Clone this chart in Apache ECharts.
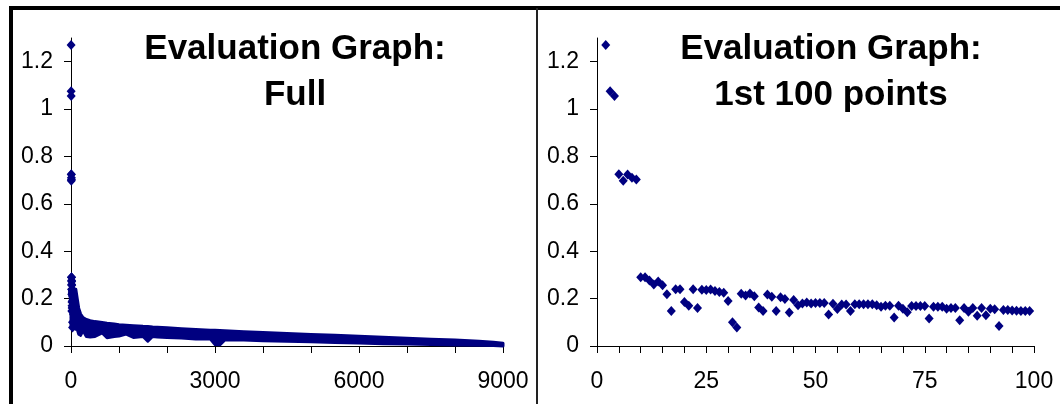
<!DOCTYPE html>
<html><head><meta charset="utf-8">
<script src="https://cdn.jsdelivr.net/npm/echarts@6/dist/echarts.min.js"></script>
<style>html,body{margin:0;padding:0;background:#fff}#c{width:1060px;height:404px}</style>
</head><body><div id="c"></div><script>
// ---- data ----
const pointX = [2,3,4,5,6,7,8,9,10,11,12,13,14,15,16,17,18,19,20,21,22,23,24,25,26,27,28,29,30,31,32,33,34,35,36,37,38,39,40,41,42,43,44,45,46,47,48,49,50,51,52,53,54,55,56,57,58,59,60,61,62,63,64,65,66,67,68,69,70,71,72,73,74,75,76,77,78,79,80,81,82,83,84,85,86,87,88,89,90,91,92,93,94,95,96,97,98,99,100];
const pointY = [1.27,1.075,1.055,0.725,0.698,0.724,0.71,0.703,
  0.29,0.29,0.276,0.26,0.272,0.256,0.218,0.148,0.24,0.24,
  0.186,0.17,0.24,0.16,0.237,0.236,0.238,0.232,0.228,0.225,
  0.19,0.1,0.078,0.221,0.213,0.222,0.21,0.162,0.148,0.217,
  0.208,0.148,0.206,0.198,0.141,0.194,0.172,0.179,0.184,0.179,
  0.181,0.181,0.181,0.133,0.178,0.156,0.175,0.175,0.148,0.176,
  0.176,0.176,0.176,0.176,0.172,0.166,0.17,0.17,0.12,0.17,
  0.157,0.142,0.169,0.169,0.169,0.169,0.116,0.166,0.166,0.166,
  0.157,0.16,0.16,0.109,0.16,0.145,0.16,0.128,0.16,0.13,
  0.157,0.155,0.084,0.152,0.152,0.15,0.149,0.148,0.148,0.148];
// envelope of the dense full-data cloud (left panel)
const bandX     = [0,100,130,160,200,250,320,400,500,650,750,900,1000,1150,1300,1500,1600,1700,1800,2000,2300,2600,2900,3000,3100,3200,3600,4000,4500,5000,5500,6000,6500,7000,7500,8000,8500,8800,9000];
const bandUpper = [0.24,0.24,0.2,0.16,0.135,0.12,0.112,0.107,0.103,0.099,0.096,0.093,0.09,0.088,0.086,0.083,0.082,0.08,0.079,0.077,0.073,0.07,0.067,0.066,0.065,0.064,0.06,0.057,0.053,0.049,0.045,0.041,0.037,0.033,0.029,0.025,0.02,0.016,0.012];
const bandLower = [0.085,0.08,0.07,0.05,0.045,0.065,0.04,0.038,0.04,0.055,0.035,0.04,0.042,0.05,0.036,0.04,0.02,0.04,0.038,0.036,0.034,0.03,0.03,0.006,0.005,0.025,0.025,0.022,0.02,0.018,0.015,0.013,0.01,0.008,0.006,0.004,0.003,0.002,0.0];
const yTicks = [0,0.2,0.4,0.6,0.8,1,1.2];
const fullXTicks = [0,1000,2000,3000,4000,5000,6000,7000,8000,9000];
const fullXLabels = [0,3000,6000,9000];
const zoomXTicks = [0,5,10,15,20,25,30,35,40,45,50,55,60,65,70,75,80,85,90,95,100];
const zoomXLabels = [0,25,50,75,100];
const titles = ['Evaluation Graph:\nFull', 'Evaluation Graph:\n1st 100 points'];

// ---- chart ----
const FONT = '"Liberation Sans", Arial, sans-serif';
const NAVY = '#000080';
const pts = pointX.map((x,i)=>[x,pointY[i]]);

function yAxis(gi){
  return {type:'value', gridIndex:gi, min:0, max:1.3,
    splitLine:{show:false},
    axisLine:{show:true, lineStyle:{color:'#000', width:1}},
    axisTick:{show:true, length:7, customValues:yTicks, lineStyle:{color:'#000'}},
    axisLabel:{customValues:yTicks, margin:18, color:'#000', fontSize:23, fontFamily:FONT,
      formatter:v=>String(v)}};
}
function xAxis(gi,max,ticks,labels){
  return {type:'value', gridIndex:gi, min:0, max:max,
    splitLine:{show:false},
    axisLine:{show:true, lineStyle:{color:'#000', width:1}},
    axisTick:{show:true, length:7, customValues:ticks, lineStyle:{color:'#000'}},
    axisLabel:{customValues:labels, margin:24, color:'#000', fontSize:23, fontFamily:FONT,
      formatter:v=>String(v)}};
}
const titleStyle = {fontSize:35, fontWeight:'bold', fontFamily:FONT, lineHeight:46, color:'#000'};
const chart = echarts.init(document.getElementById('c'), null, {renderer:'canvas'});
chart.setOption({
  animation:false,
  backgroundColor:'#fff',
  title:[
    {text:titles[0], left:290, top:21, textAlign:'center', textStyle:titleStyle},
    {text:titles[1], left:826, top:21, textAlign:'center', textStyle:titleStyle}
  ],
  grid:[
    {left:71, top:38, width:432, height:308},
    {left:597, top:38, width:437, height:308}
  ],
  xAxis:[xAxis(0,9000,fullXTicks,fullXLabels), xAxis(1,100,zoomXTicks,zoomXLabels)],
  yAxis:[yAxis(0), yAxis(1)],
  graphic:[
    {type:'rect', shape:{x:9,y:6,width:1051,height:4}, style:{fill:'#000'}},
    {type:'rect', shape:{x:9,y:6,width:4,height:398}, style:{fill:'#000'}},
    {type:'rect', shape:{x:536,y:8,width:2,height:396}, style:{fill:'#222'}}
  ],
  series:[
    {type:'custom', coordinateSystem:'cartesian2d', xAxisIndex:0, yAxisIndex:0, data:[[0,0]], z:2,
      renderItem:function(params, api){
        const poly = [];
        for (let i=0;i<bandX.length;i++) poly.push(api.coord([bandX[i], bandUpper[i]]));
        for (let i=bandX.length-1;i>=0;i--) poly.push(api.coord([bandX[i], bandLower[i]]));
        return {type:'polygon', shape:{points:poly}, style:{fill:NAVY, stroke:NAVY, lineWidth:3, lineJoin:'round'}};
      }},
    {type:'scatter', xAxisIndex:0, yAxisIndex:0, data:pts, symbol:'diamond', symbolSize:[9,10],
      itemStyle:{color:NAVY, opacity:1}, z:3},
    {type:'scatter', xAxisIndex:1, yAxisIndex:1, data:pts, symbol:'diamond', symbolSize:[9,10],
      itemStyle:{color:NAVY, opacity:1}, z:3}
  ]
});
</script></body></html>
